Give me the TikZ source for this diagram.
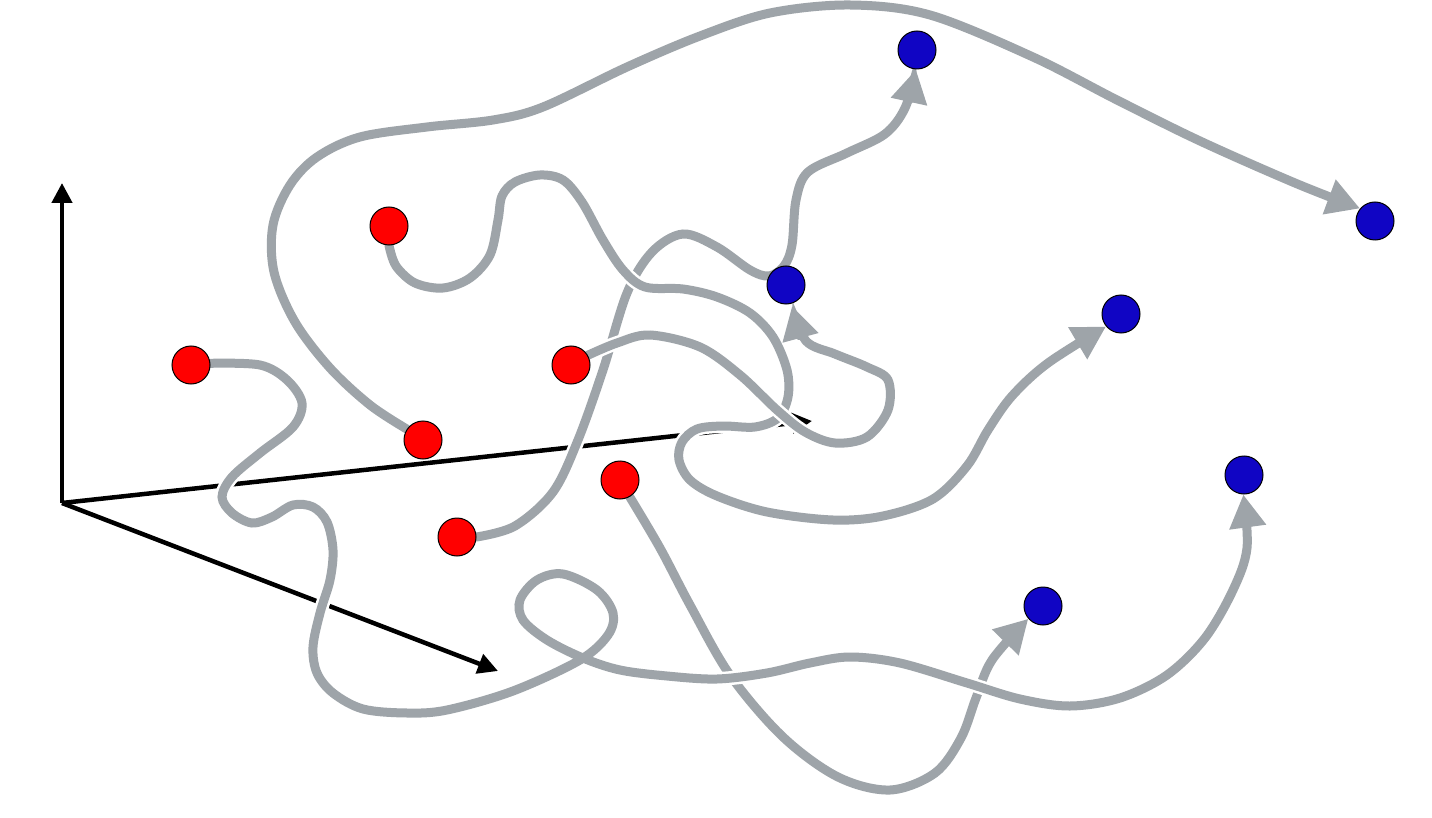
\documentclass[tikz,border=0pt]{standalone}
\usetikzlibrary{arrows.meta}
\definecolor{pathgray}{RGB}{158,164,169}
\definecolor{nodered}{RGB}{255,0,0}
\definecolor{nodeblue}{RGB}{16,5,196}
\pgfdeclarelayer{axeslayer}
\pgfdeclarelayer{pathlayer}
\pgfsetlayers{axeslayer,pathlayer,main}
\tikzset{
  dot/.style={circle,draw=black,line width=1pt,minimum size=38pt,inner sep=0pt},
  reddot/.style={dot,fill=nodered},
  bluedot/.style={dot,fill=nodeblue},
  axisline/.style={draw=black,line width=4.5pt,-{Triangle[length=20pt,width=20pt]}},
  trail/.style={draw=pathgray,line width=9pt,line cap=round,
    preaction={draw=white,line width=14pt,-},
    -{Triangle[length=33pt,width=35pt]}},
  trailsmooth/.style={smooth,tension=0.55}
}
\begin{document}
\begin{tikzpicture}[x=1pt,y=-1pt]
\useasboundingbox (0,0) rectangle (1432,818);
% red nodes
\node[reddot] (R1) at (389,226) {};
\node[reddot] (R2) at (191,365) {};
\node[reddot] (R3) at (571,365) {};
\node[reddot] (R4) at (423,440) {};
\node[reddot] (R5) at (620,480) {};
\node[reddot] (R6) at (457,537) {};
% blue nodes
\node[bluedot] (B1) at (917,50) {};
\node[bluedot] (B2) at (1375,221) {};
\node[bluedot] (B3) at (786,285) {};
\node[bluedot] (B4) at (1121,314) {};
\node[bluedot] (B5) at (1244,475) {};
\node[bluedot] (B6) at (1043,606) {};
% axes
\coordinate (O) at (62,503);
\coordinate (AY) at (62,183);
\coordinate (AX) at (812,421);
\coordinate (AZ) at (498,671);
\coordinate (B3tip) at (792,306);
\begin{pgfonlayer}{axeslayer}
\draw[axisline] (O) -- (AY);
\draw[axisline] (O) -- (AX);
\draw[axisline] (O) -- (AZ);
\end{pgfonlayer}
\begin{pgfonlayer}{pathlayer}
% C: R6 -> B1
\draw[trail] plot[trailsmooth] coordinates {(R6.east) (515,526) (553,492) (578,440) (603,370) (627,293) (652,252) (683,234) (717,247) (750,270) (769,276) (784,266) (792,245) (796,200) (808,172) (847,153) (885,134) (905,108) (B1.-93)};
% F: R5 -> B6
\draw[trail] plot[trailsmooth] coordinates {(R5.-60) (660,548) (690,605) (730,675) (783,737) (838,777) (890,790) (935,773) (961,738) (976,698) (992,660) (B6.221)};
% A: R1 -> B4
\draw[trail] plot[trailsmooth] coordinates {(R1.south) (396,266) (415,283) (443,288) (470,278) (490,255) (498,220) (502,196) (515,182) (540,175) (563,180) (582,202) (603,240) (623,270) (645,287) (683,289) (717,297) (750,313) (773,337) (787,370) (788,397) (778,418) (755,427) (723,426) (697,429) (682,442) (679,460) (690,480) (717,496) (767,512) (833,520) (883,516) (933,499) (967,466) (988,430) (1012,396) (1048,363) (B4.220)};
% B: R3 -> B3
\draw[trail] plot[trailsmooth] coordinates {(R3.30) (617,343) (650,335) (700,347) (740,375) (777,410) (805,432) (835,443) (867,437) (888,410) (888,380) (867,367) (835,354) (806,341) (B3tip)};
% E: R2 -> B5
\draw[trail] plot[trailsmooth] coordinates {(R2.5) (260,365) (287,380) (302,403) (293,427) (260,453) (232,477) (222,497) (232,513) (252,523) (272,517) (293,505) (313,507) (327,522) (333,550) (330,580) (320,613) (313,647) (317,673) (333,693) (363,709) (407,713) (447,710) (513,691) (580,660) (608,635) (613,613) (597,590) (563,574) (537,580) (520,600) (523,620) (547,640) (583,658) (620,670) (667,676) (717,679) (767,673) (810,663) (850,657) (900,663) (967,683) (1020,699) (1070,706) (1120,698) (1167,675) (1205,638) (1233,590) (1247,548) (B5.-92)};
% D: R4 -> B2
\draw[trail] plot[trailsmooth] coordinates {(R4.146) (370,405) (330,368) (295,322) (274,272) (273,225) (290,185) (317,157) (360,137) (427,127) (493,120) (543,107) (627,67) (700,36) (770,13) (850,5) (930,15) (1033,57) (1117,100) (1200,141) (1295,183) (B2.140)};
\end{pgfonlayer}
\end{tikzpicture}
\end{document}
